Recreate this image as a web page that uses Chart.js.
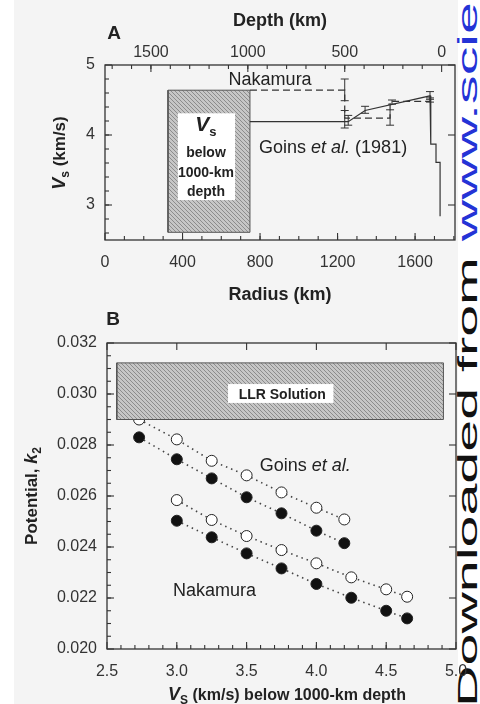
<!DOCTYPE html>
<html>
<head>
<meta charset="utf-8">
<title>Lunar shear velocity and k2</title>
<script src="https://cdn.jsdelivr.net/npm/chart.js@4.4.1/dist/chart.umd.min.js"></script>
<style>
  html, body { margin: 0; padding: 0; background: #fff; }
  #page { position: relative; width: 480px; height: 704px; overflow: hidden; background: #fff; }
  #paper { position: absolute; left: 14px; top: 0; width: 444px; height: 704px; background: #f4f4f4; }
  canvas { position: absolute; left: 0; z-index: 2; }
  #chartA { top: 0; }
  #chartB { top: 306px; }
  #stamp { position: absolute; left: 0; top: 0; z-index: 1; white-space: nowrap; font: 28px/1 "Liberation Sans", Arial, sans-serif; color: #111;
           transform-origin: 0 0; transform: translate(454px, 707px) rotate(-90deg) scale(2.05, 1); }
  #stamp span { color: #2433d6; }
</style>
</head>
<body>
<div id="page">
  <div id="paper"></div>
  <div id="stamp">Downloaded from <span>www.sciencemag.org</span></div>
  <canvas id="chartA" width="480" height="306"></canvas>
  <canvas id="chartB" width="480" height="398"></canvas>
</div>
<script>
const FF = '"Liberation Sans", Arial, Helvetica, sans-serif';

// panel A - shear velocity profiles (radius in km, Vs in km/s)
const radiusTicks = [0, 400, 800, 1200, 1600];
const depthTicks = [1500, 1000, 500, 0];
const vsTicksA = [3, 4, 5];
const moonRadius = 1737;
const radiusMax = 1806;

const goinsR  = [748, 1255, 1342, 1677, 1681, 1681, 1708, 1708, 1729, 1729];
const goinsVs = [4.19, 4.19, 4.35, 4.56, 4.56, 3.87, 3.87, 3.61, 3.61, 2.84];
const nakR    = [748, 1237, 1237, 1471, 1471, 1677];
const nakVs   = [4.64, 4.64, 4.24, 4.24, 4.48, 4.48];

// error bars
const barR  = [1237, 1237, 1255, 1342, 1471, 1481, 1677, 1677];
const barLo = [4.49, 4.10, 4.14, 4.31, 4.14, 4.44, 4.47, 4.51];
const barHi = [4.80, 4.35, 4.28, 4.41, 4.36, 4.50, 4.62, 4.53];

// shaded "Vs below 1000 km" box
const coreBoxR  = [325, 748];
const coreBoxVs = [2.61, 4.64];

// panel B - k2 against Vs below 1000 km
const vsTicksB = [2.5, 3.0, 3.5, 4.0, 4.5, 5.0];
const k2Ticks = [0.020, 0.022, 0.024, 0.026, 0.028, 0.030, 0.032];

const goinsVsB    = [2.73, 3.0, 3.25, 3.5, 3.75, 4.0, 4.2];
const goinsOpen   = [0.02900, 0.02822, 0.02738, 0.02681, 0.02614, 0.02554, 0.02508];
const goinsFilled = [0.02830, 0.02744, 0.02669, 0.02595, 0.02532, 0.02464, 0.02415];

const nakVsB    = [3.0, 3.25, 3.5, 3.75, 4.0, 4.25, 4.5, 4.65];
const nakOpen   = [0.02584, 0.02506, 0.02443, 0.02388, 0.02336, 0.02281, 0.02234, 0.02205];
const nakFilled = [0.02503, 0.02438, 0.02375, 0.02316, 0.02255, 0.02201, 0.02150, 0.02120];

const llrVs = [2.57, 4.91];
const llrK2 = [0.02900, 0.03122];

Chart.defaults.font.family = FF;
Chart.defaults.color = '#333';

const pts = (xs, ys) => xs.map((x, i) => ({ x: x, y: ys[i] }));
const rect = (xs, ys) => pts([xs[0], xs[1], xs[1], xs[0], xs[0]], [ys[0], ys[0], ys[1], ys[1], ys[0]]);

function steps(a, b, s) {
  const out = [];
  for (let v = a; v <= b + s / 1000; v += s) out.push(+v.toFixed(6));
  return out;
}

function hatch() {
  const c = document.createElement('canvas');
  c.width = 4; c.height = 4;
  const g = c.getContext('2d');
  g.fillStyle = '#c6c6c6';
  g.fillRect(0, 0, 4, 4);
  g.strokeStyle = '#8c8c8c';
  g.lineWidth = 1;
  g.beginPath();
  g.moveTo(-1, -1); g.lineTo(5, 5);
  g.moveTo(-1, 3); g.lineTo(1, 5);
  g.moveTo(3, -1); g.lineTo(5, 1);
  g.stroke();
  return g.createPattern(c, 'repeat');
}

// text with mixed fonts; y is the visual middle of the capitals
function rich(ctx, parts, x, y, rot) {
  ctx.save();
  ctx.translate(x, y);
  if (rot) ctx.rotate(rot);
  let w = 0;
  parts.forEach(p => { ctx.font = p[1] + ' ' + FF; w += ctx.measureText(p[0]).width; });
  const size = +parts[0][1].match(/(\d+)px/)[1];
  let cx = -w / 2;
  ctx.textBaseline = 'alphabetic';
  ctx.textAlign = 'left';
  parts.forEach(p => {
    ctx.font = p[1] + ' ' + FF;
    ctx.fillText(p[0], cx, size * 0.36 + (p[2] || 0));
    cx += ctx.measureText(p[0]).width;
  });
  ctx.restore();
}

function makeDecor(cfg) {
  return {
    id: 'decor',
    afterDatasetsDraw(chart) {
      const ctx = chart.ctx, a = chart.chartArea, sc = chart.scales;
      const px = v => sc.x.getPixelForValue(v), py = v => sc.y.getPixelForValue(v);
      ctx.save();
      ctx.strokeStyle = '#333';
      ctx.lineWidth = 1;
      if (cfg.bars) {
        const b = cfg.bars;
        b.x.forEach((r, i) => {
          const x = px(r), y0 = py(b.lo[i]), y1 = py(b.hi[i]);
          ctx.beginPath();
          ctx.moveTo(x, y0); ctx.lineTo(x, y1);
          ctx.moveTo(x - 4, y0); ctx.lineTo(x + 4, y0);
          ctx.moveTo(x - 4, y1); ctx.lineTo(x + 4, y1);
          ctx.stroke();
        });
      }
      ctx.fillStyle = '#fff';
      (cfg.patches || []).forEach(p => {
        const x0 = px(p.x[0]), x1 = px(p.x[1]), y0 = py(p.y[0]), y1 = py(p.y[1]);
        ctx.fillRect(Math.min(x0, x1), Math.min(y0, y1), Math.abs(x1 - x0), Math.abs(y1 - y0));
      });
      ctx.fillStyle = '#222';
      (cfg.notes || []).forEach(n => rich(ctx, n.parts, px(n.x), py(n.y), 0));
      (cfg.titles || []).forEach(t => rich(ctx, t.parts, t.px, t.py, t.rot || 0));

      // frame with inward ticks
      ctx.strokeStyle = '#333';
      ctx.lineWidth = 1.3;
      ctx.strokeRect(a.left, a.top, a.right - a.left, a.bottom - a.top);
      ctx.lineWidth = 1.1;
      cfg.ticks.forEach(t => {
        const s = sc[t.scale];
        t.values.forEach(v => {
          const p = s.getPixelForValue(v);
          ctx.beginPath();
          if (t.side === 'bottom') { ctx.moveTo(p, a.bottom); ctx.lineTo(p, a.bottom - t.len); }
          if (t.side === 'top') { ctx.moveTo(p, a.top); ctx.lineTo(p, a.top + t.len); }
          if (t.side === 'left') { ctx.moveTo(a.left, p); ctx.lineTo(a.left + t.len, p); }
          if (t.side === 'right') { ctx.moveTo(a.right, p); ctx.lineTo(a.right - t.len, p); }
          ctx.stroke();
        });
      });
      ctx.restore();
    }
  };
}

const tickFont = { family: FF, size: 16 };
const noGrid = { display: false, drawTicks: false };

// ---------- panel A ----------
const decorA = makeDecor({
  bars: { x: barR, lo: barLo, hi: barHi },
  patches: [{ x: [376, 671], y: [3.07, 4.31] }],
  notes: [
    { x: 852, y: 4.80, parts: [['Nakamura', '18px']] },
    { x: 1177, y: 3.84, parts: [['Goins ', '18px'], ['et al.', 'italic 18px'], [' (1981)', '18px']] },
    { x: 521, y: 4.16, parts: [['V', 'italic bold 21px'], ['s', 'bold 13px', 5]] },
    { x: 521, y: 3.757, parts: [['below', 'bold 14px']] },
    { x: 521, y: 3.471, parts: [['1000-km', 'bold 14px']] },
    { x: 521, y: 3.20, parts: [['depth', 'bold 14px']] }
  ],
  titles: [
    { px: 114, py: 32, parts: [['A', 'bold 19px']] },
    { px: 59, py: 153, rot: -Math.PI / 2, parts: [['V', 'italic bold 18px'], ['s', 'bold 12px', 4], [' (km/s)', 'bold 17px']] }
  ],
  ticks: [
    { scale: 'x', side: 'bottom', values: radiusTicks, len: 7 },
    { scale: 'x', side: 'bottom', values: steps(100, 1800, 100), len: 4 },
    { scale: 'x2', side: 'top', values: depthTicks, len: 7 },
    { scale: 'x2', side: 'top', values: steps(100, 1700, 100), len: 4 },
    { scale: 'y', side: 'left', values: vsTicksA, len: 7 },
    { scale: 'y', side: 'left', values: steps(2.6, 4.8, 0.2), len: 4 },
    { scale: 'y', side: 'right', values: vsTicksA, len: 7 }
  ]
});

new Chart(document.getElementById('chartA'), {
  type: 'scatter',
  data: {
    datasets: [
      { data: rect(coreBoxR, coreBoxVs), showLine: true, fill: 'shape', backgroundColor: hatch(),
        borderColor: '#555', borderWidth: 1, pointRadius: 0, order: 2 },
      { data: pts(nakR, nakVs), showLine: true, fill: false, borderDash: [7, 4],
        borderColor: '#333', borderWidth: 1.2, pointRadius: 0, order: 1 },
      { data: pts(goinsR, goinsVs), showLine: true, fill: false,
        borderColor: '#333', borderWidth: 1.2, pointRadius: 0, order: 1 }
    ]
  },
  options: {
    responsive: false,
    animation: false,
    events: [],
    layout: { padding: { left: 0, right: 25, top: 0, bottom: 0 } },
    plugins: { legend: { display: false }, tooltip: { enabled: false } },
    scales: {
      x: {
        type: 'linear', position: 'bottom', min: 0, max: radiusMax,
        grid: noGrid, border: { display: false },
        afterBuildTicks: s => { s.ticks = radiusTicks.map(v => ({ value: v })); },
        afterFit: s => { s.height = 66; s.paddingLeft = 0; s.paddingRight = 0; },
        ticks: { font: tickFont, padding: 13, maxRotation: 0, autoSkip: false, callback: v => String(v) },
        title: { display: true, text: 'Radius (km)', color: '#222', font: { family: FF, size: 18, weight: 'bold' }, padding: { top: 0, bottom: 0 } }
      },
      x2: {
        type: 'linear', position: 'top', reverse: true, min: moonRadius - radiusMax, max: moonRadius,
        grid: noGrid, border: { display: false },
        afterBuildTicks: s => { s.ticks = depthTicks.map(v => ({ value: v })); },
        afterFit: s => { s.height = 65; s.paddingLeft = 0; s.paddingRight = 0; },
        ticks: { font: tickFont, padding: 3, maxRotation: 0, autoSkip: false, callback: v => String(v) },
        title: { display: true, text: 'Depth (km)', color: '#222', font: { family: FF, size: 18, weight: 'bold' }, padding: { top: 10, bottom: 0 } }
      },
      y: {
        type: 'linear', position: 'left', min: 2.5, max: 5,
        grid: noGrid, border: { display: false },
        afterBuildTicks: s => { s.ticks = vsTicksA.map(v => ({ value: v })); },
        afterFit: s => { s.width = 105; s.paddingTop = 0; s.paddingBottom = 0; },
        ticks: { font: tickFont, padding: 10, autoSkip: false, callback: v => String(v) }
      }
    }
  },
  plugins: [decorA]
});

// ---------- panel B ----------
const decorB = makeDecor({
  patches: [{ x: [3.367, 4.122], y: [0.02965, 0.03039] }],
  notes: [
    { x: 3.92, y: 0.02725, parts: [['Goins ', '18px'], ['et al.', 'italic 18px']] },
    { x: 3.27, y: 0.02235, parts: [['Nakamura', '18px']] },
    { x: 3.755, y: 0.0300, parts: [['LLR Solution', 'bold 14px']] }
  ],
  titles: [
    { px: 113, py: 12, parts: [['B', 'bold 19px']] },
    { px: 31, py: 190, rot: -Math.PI / 2, parts: [['Potential, ', 'bold 17px'], ['k', 'italic bold 18px'], ['2', 'bold 12px', 4]] },
    { px: 287, py: 388, parts: [['V', 'italic bold 18px'], ['S', 'bold 12px', 4], [' (km/s) below 1000-km depth', 'bold 16px']] }
  ],
  ticks: [
    { scale: 'x', side: 'bottom', values: vsTicksB, len: 7 },
    { scale: 'x', side: 'bottom', values: steps(2.6, 4.9, 0.1), len: 4 },
    { scale: 'x', side: 'top', values: vsTicksB, len: 7 },
    { scale: 'y', side: 'left', values: k2Ticks, len: 7 },
    { scale: 'y', side: 'left', values: steps(0.0205, 0.0315, 0.0005), len: 4 },
    { scale: 'y', side: 'right', values: k2Ticks, len: 7 }
  ]
});

const dotted = { showLine: true, fill: false, borderDash: [1.5, 4], borderColor: '#444', borderWidth: 1.6,
  pointRadius: 5.5, pointBorderColor: '#222', pointBorderWidth: 1, order: 1 };

new Chart(document.getElementById('chartB'), {
  type: 'scatter',
  data: {
    datasets: [
      Object.assign({ data: pts(goinsVsB, goinsOpen), pointBackgroundColor: '#fff' }, dotted),
      Object.assign({ data: pts(goinsVsB, goinsFilled), pointBackgroundColor: '#111' }, dotted),
      Object.assign({ data: pts(nakVsB, nakOpen), pointBackgroundColor: '#fff' }, dotted),
      Object.assign({ data: pts(nakVsB, nakFilled), pointBackgroundColor: '#111' }, dotted),
      { data: rect(llrVs, llrK2), showLine: true, fill: 'shape', backgroundColor: hatch(),
        borderColor: '#555', borderWidth: 1, pointRadius: 0, order: 0 }
    ]
  },
  options: {
    responsive: false,
    animation: false,
    events: [],
    layout: { padding: { left: 0, right: 24, top: 37, bottom: 0 } },
    plugins: { legend: { display: false }, tooltip: { enabled: false } },
    scales: {
      x: {
        type: 'linear', position: 'bottom', min: 2.5, max: 5,
        grid: noGrid, border: { display: false },
        afterBuildTicks: s => { s.ticks = vsTicksB.map(v => ({ value: v })); },
        afterFit: s => { s.height = 55; s.paddingLeft = 0; s.paddingRight = 0; },
        ticks: { font: tickFont, padding: 13, maxRotation: 0, autoSkip: false, callback: v => v.toFixed(1) }
      },
      y: {
        type: 'linear', position: 'left', min: 0.020, max: 0.032,
        grid: noGrid, border: { display: false },
        afterBuildTicks: s => { s.ticks = k2Ticks.map(v => ({ value: v })); },
        afterFit: s => { s.width = 107; s.paddingTop = 0; s.paddingBottom = 0; },
        ticks: { font: tickFont, padding: 10, autoSkip: false, callback: v => v.toFixed(3) }
      }
    }
  },
  plugins: [decorB]
});
</script>
</body>
</html>
